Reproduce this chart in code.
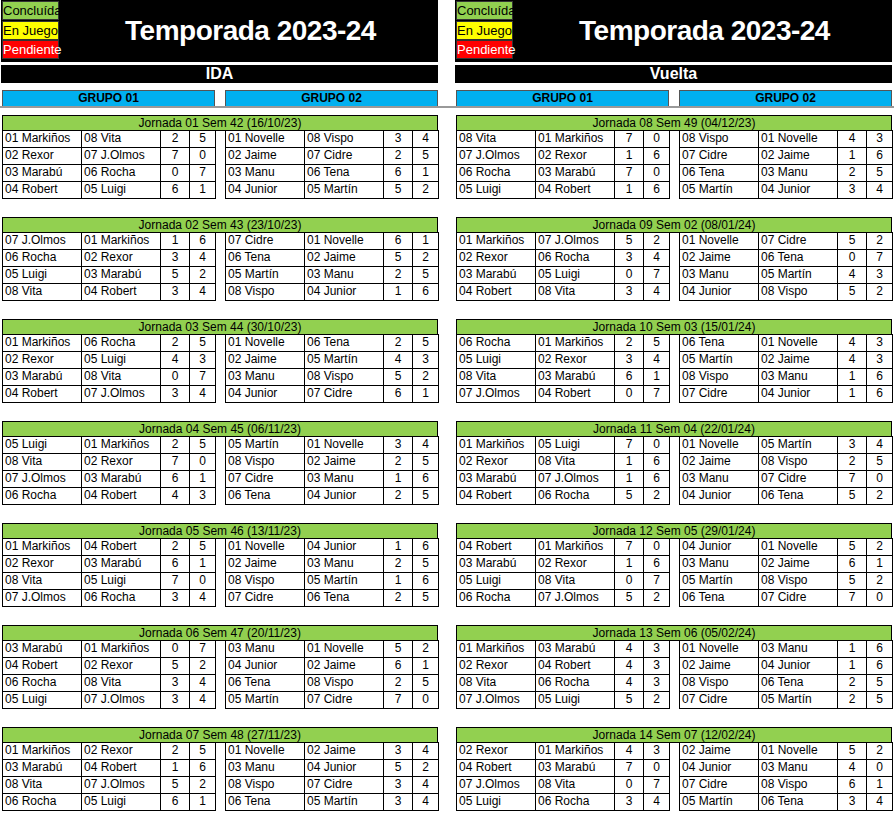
<!DOCTYPE html>
<html><head><meta charset="utf-8">
<script src="https://cdn.jsdelivr.net/npm/chart.js@4"></script>
<style>
body{margin:0;background:#fff;font-family:"Liberation Sans",Arial,sans-serif;}
#root{position:relative;width:894px;height:815px;}
.b{position:absolute;box-sizing:border-box;font-size:12px;line-height:15px;white-space:nowrap;overflow:hidden;}
</style></head><body><div id="root"></div>
<script>
const jornadaTitles=["Jornada 01  Sem 42 (16/10/23)","Jornada 02  Sem 43 (23/10/23)","Jornada 03  Sem 44 (30/10/23)","Jornada 04  Sem 45 (06/11/23)","Jornada 05  Sem 46 (13/11/23)","Jornada 06  Sem 47 (20/11/23)","Jornada 07  Sem 48 (27/11/23)","Jornada 08  Sem 49 (04/12/23)","Jornada 09  Sem 02 (08/01/24)","Jornada 10  Sem 03 (15/01/24)","Jornada 11  Sem 04 (22/01/24)","Jornada 12  Sem 05 (29/01/24)","Jornada 13  Sem 06 (05/02/24)","Jornada 14  Sem 07 (12/02/24)"];
const g1Matches=[
["01 Markiños|08 Vita|2|5","02 Rexor|07 J.Olmos|7|0","03 Marabú|06 Rocha|0|7","04 Robert|05 Luigi|6|1"],
["07 J.Olmos|01 Markiños|1|6","06 Rocha|02 Rexor|3|4","05 Luigi|03 Marabú|5|2","08 Vita|04 Robert|3|4"],
["01 Markiños|06 Rocha|2|5","02 Rexor|05 Luigi|4|3","03 Marabú|08 Vita|0|7","04 Robert|07 J.Olmos|3|4"],
["05 Luigi|01 Markiños|2|5","08 Vita|02 Rexor|7|0","07 J.Olmos|03 Marabú|6|1","06 Rocha|04 Robert|4|3"],
["01 Markiños|04 Robert|2|5","02 Rexor|03 Marabú|6|1","08 Vita|05 Luigi|7|0","07 J.Olmos|06 Rocha|3|4"],
["03 Marabú|01 Markiños|0|7","04 Robert|02 Rexor|5|2","06 Rocha|08 Vita|3|4","05 Luigi|07 J.Olmos|3|4"],
["01 Markiños|02 Rexor|2|5","03 Marabú|04 Robert|1|6","08 Vita|07 J.Olmos|5|2","06 Rocha|05 Luigi|6|1"],
["08 Vita|01 Markiños|7|0","07 J.Olmos|02 Rexor|1|6","06 Rocha|03 Marabú|7|0","05 Luigi|04 Robert|1|6"],
["01 Markiños|07 J.Olmos|5|2","02 Rexor|06 Rocha|3|4","03 Marabú|05 Luigi|0|7","04 Robert|08 Vita|3|4"],
["06 Rocha|01 Markiños|2|5","05 Luigi|02 Rexor|3|4","08 Vita|03 Marabú|6|1","07 J.Olmos|04 Robert|0|7"],
["01 Markiños|05 Luigi|7|0","02 Rexor|08 Vita|1|6","03 Marabú|07 J.Olmos|1|6","04 Robert|06 Rocha|5|2"],
["04 Robert|01 Markiños|7|0","03 Marabú|02 Rexor|1|6","05 Luigi|08 Vita|0|7","06 Rocha|07 J.Olmos|5|2"],
["01 Markiños|03 Marabú|4|3","02 Rexor|04 Robert|4|3","08 Vita|06 Rocha|4|3","07 J.Olmos|05 Luigi|5|2"],
["02 Rexor|01 Markiños|4|3","04 Robert|03 Marabú|7|0","07 J.Olmos|08 Vita|0|7","05 Luigi|06 Rocha|3|4"]];
const g2Matches=[
["01 Novelle|08 Vispo|3|4","02 Jaime|07 Cidre|2|5","03 Manu|06 Tena|6|1","04 Junior|05 Martín|5|2"],
["07 Cidre|01 Novelle|6|1","06 Tena|02 Jaime|5|2","05 Martín|03 Manu|2|5","08 Vispo|04 Junior|1|6"],
["01 Novelle|06 Tena|2|5","02 Jaime|05 Martín|4|3","03 Manu|08 Vispo|5|2","04 Junior|07 Cidre|6|1"],
["05 Martín|01 Novelle|3|4","08 Vispo|02 Jaime|2|5","07 Cidre|03 Manu|1|6","06 Tena|04 Junior|2|5"],
["01 Novelle|04 Junior|1|6","02 Jaime|03 Manu|2|5","08 Vispo|05 Martín|1|6","07 Cidre|06 Tena|2|5"],
["03 Manu|01 Novelle|5|2","04 Junior|02 Jaime|6|1","06 Tena|08 Vispo|2|5","05 Martín|07 Cidre|7|0"],
["01 Novelle|02 Jaime|3|4","03 Manu|04 Junior|5|2","08 Vispo|07 Cidre|3|4","06 Tena|05 Martín|3|4"],
["08 Vispo|01 Novelle|4|3","07 Cidre|02 Jaime|1|6","06 Tena|03 Manu|2|5","05 Martín|04 Junior|3|4"],
["01 Novelle|07 Cidre|5|2","02 Jaime|06 Tena|0|7","03 Manu|05 Martín|4|3","04 Junior|08 Vispo|5|2"],
["06 Tena|01 Novelle|4|3","05 Martín|02 Jaime|4|3","08 Vispo|03 Manu|1|6","07 Cidre|04 Junior|1|6"],
["01 Novelle|05 Martín|3|4","02 Jaime|08 Vispo|2|5","03 Manu|07 Cidre|7|0","04 Junior|06 Tena|5|2"],
["04 Junior|01 Novelle|5|2","03 Manu|02 Jaime|6|1","05 Martín|08 Vispo|5|2","06 Tena|07 Cidre|7|0"],
["01 Novelle|03 Manu|1|6","02 Jaime|04 Junior|1|6","08 Vispo|06 Tena|2|5","07 Cidre|05 Martín|2|5"],
["02 Jaime|01 Novelle|5|2","04 Junior|03 Manu|4|0","07 Cidre|08 Vispo|6|1","05 Martín|06 Tena|3|4"]];
const legendLabels=["Concluída","En Juego","Pendiente"];
const legendColors=["#92D050","#FFFF00","#FF0000"];
const phaseLabels=["IDA","Vuelta"];
const groupLabels=["GRUPO 01","GRUPO 02"];

const root=document.getElementById('root');
function box(x,y,w,h,txt,st){const d=document.createElement('div');d.className='b';d.style.left=x+'px';d.style.top=y+'px';d.style.width=w+'px';d.style.height=h+'px';d.textContent=txt;Object.assign(d.style,st||{});root.appendChild(d);return d;}
const halves=[1,455];
phaseLabels.forEach((p,hi)=>{
  const X=halves[hi];
  box(X,0,437,62,'',{background:'#000'});
  legendLabels.forEach((l,i)=>box(X+1,1+i*19.5,57,19,l,{background:legendColors[i],color:i==2?'#fff':'#000',fontSize:'13px',lineHeight:'17px',textAlign:'center',border:'1px solid #333',overflow:'visible'}));
  box(X+62,8,375,46,'Temporada 2023-24',{color:'#fff',fontWeight:'bold',fontSize:'28px',lineHeight:'46px',textAlign:'center',letterSpacing:'-0.5px'});
  box(X,65,437,18,p,{background:'#000',color:'#fff',fontWeight:'bold',fontSize:'16px',lineHeight:'18px',textAlign:'center'});
  groupLabels.forEach((g,gi)=>box(X+1+gi*223,90,213,17,g,{background:'#00B0F0',color:'#000',fontWeight:'bold',lineHeight:'15px',textAlign:'center',border:'1px solid #555'}));
});
box(0,106,894,1.5,'',{background:'#999'});
jornadaTitles.forEach((t,j)=>{
  const X=halves[j<7?0:1]; const Y=115+(j%7)*102;
  box(X+1,Y,436,16,t,{background:'#92D050',textAlign:'center',lineHeight:'14px',border:'1px solid #000'});
  [g1Matches[j],g2Matches[j]].forEach((ms,gi)=>{
    const gx=X+1+gi*223;
    ms.forEach((m,r)=>{
      const [a,b,s1,s2]=m.split('|'); const y=Y+15+r*17;
      const cs={border:'1px solid #000',lineHeight:'15px',paddingLeft:'2px'};
      box(gx,y,80,18,a,cs);box(gx+79,y,80,18,b,cs);
      box(gx+158,y,30,18,s1,{border:'1px solid #000',lineHeight:'15px',textAlign:'center'});
      box(gx+187,y,27,18,s2,{border:'1px solid #000',lineHeight:'15px',textAlign:'center'});
    });
  });
});
</script></body></html>
